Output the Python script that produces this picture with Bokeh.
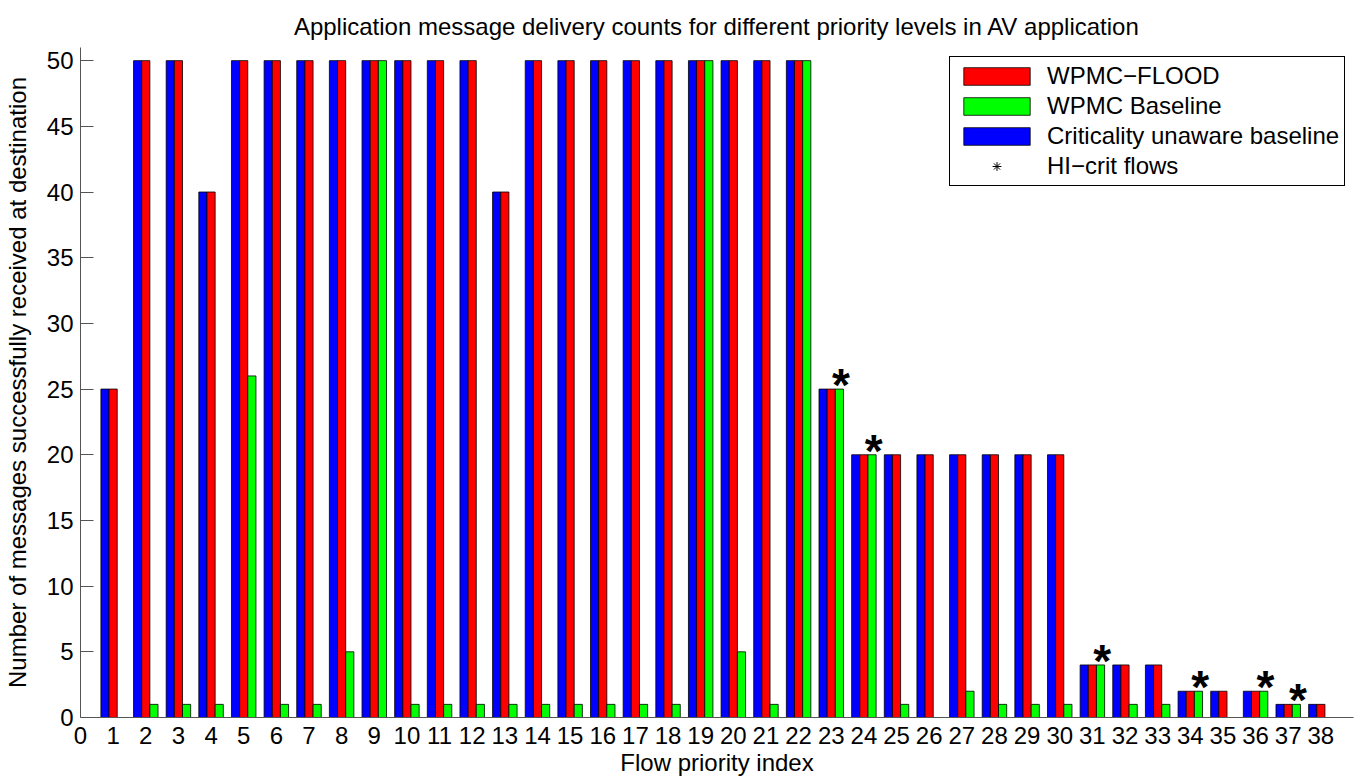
from bokeh.plotting import figure
from bokeh.models import Range1d, Legend, LegendItem, ColumnDataSource, FixedTicker
from bokeh.core.properties import value
from bokeh.transform import dodge
from bokeh.embed import file_html
from bokeh.resources import INLINE

# ---- data ----
flows = list(range(1, 39))
unaware = [25, 50, 50, 40, 50, 50, 50, 50, 50, 50,
           50, 50, 40, 50, 50, 50, 50, 50, 50, 50,
           50, 50, 25, 20, 20, 20, 20, 20, 20, 20,
           4, 4, 4, 2, 2, 2, 1, 1]
flood = [25, 50, 50, 40, 50, 50, 50, 50, 50, 50,
         50, 50, 40, 50, 50, 50, 50, 50, 50, 50,
         50, 50, 25, 20, 20, 20, 20, 20, 20, 20,
         4, 4, 4, 2, 2, 2, 1, 1]
baseline = [0, 1, 1, 1, 26, 1, 1, 5, 50, 1,
            1, 1, 1, 1, 1, 1, 1, 1, 50, 5,
            1, 50, 25, 20, 1, 0, 2, 1, 1, 1,
            4, 1, 1, 2, 0, 2, 1, 0]
hi_crit = [23, 24, 31, 34, 36, 37]
x_ticks = list(range(0, 39))
y_ticks = list(range(0, 51, 5))

series_labels = ["WPMC\u2212FLOOD", "WPMC Baseline", "Criticality unaware baseline", "HI\u2212crit flows"]
title_text = "Application message delivery counts for different priority levels in AV application"

FONT = "Liberation Sans"
FS = "24px"

p = figure(width=1364, height=783, x_range=Range1d(0, 39), y_range=Range1d(0, 51),
           output_backend="svg", toolbar_location=None, title=title_text,
           min_border_left=77, min_border_right=11, min_border_top=47, min_border_bottom=66)
p.outline_line_color = None
p.xgrid.visible = False
p.ygrid.visible = False
p.background_fill_color = "white"

p.title.align = "center"
p.title.text_font = FONT
p.title.text_font_size = FS
p.title.text_font_style = "normal"
p.title.text_color = "black"
p.title.standoff = 16

for ax in (p.xaxis[0], p.yaxis[0]):
    ax.axis_line_color = "#555555"
    ax.major_tick_line_color = "#555555"
    ax.minor_tick_line_color = None
    ax.major_label_text_font = FONT
    ax.major_label_text_font_size = FS
    ax.major_label_text_color = "black"
    ax.axis_label_text_font = FONT
    ax.axis_label_text_font_size = FS
    ax.axis_label_text_font_style = "normal"
    ax.axis_label_text_color = "black"

p.xaxis.ticker = FixedTicker(ticks=x_ticks)
p.xaxis.major_tick_in = 0
p.xaxis.major_tick_out = 0
p.xaxis.major_label_standoff = 9
p.xaxis.axis_label = "Flow priority index"
p.xaxis.axis_label_standoff = 2

p.yaxis.ticker = FixedTicker(ticks=y_ticks)
p.yaxis.major_tick_in = 13
p.yaxis.major_tick_out = 0
p.yaxis.major_label_standoff = 7
p.yaxis.axis_label = "Number of messages successfully received at destination"
p.yaxis.axis_label_standoff = 13

src = ColumnDataSource(dict(flow=flows, unaware=unaware, flood=flood, baseline=baseline))
bw = 0.25
r_blue = p.vbar(x=dodge("flow", -bw), top="unaware", width=bw, source=src,
                fill_color="#0000ff", line_color="black", line_width=0.8)
r_red = p.vbar(x="flow", top="flood", width=bw, source=src,
               fill_color="#ff0000", line_color="black", line_width=0.8)
r_green = p.vbar(x=dodge("flow", bw), top="baseline", width=bw, source=src,
                 fill_color="#00ff00", line_color="black", line_width=0.8)

star_src = ColumnDataSource(dict(x=[f + 0.3 for f in hi_crit],
                                 y=[baseline[f - 1] for f in hi_crit]))
p.text(x="x", y="y", text=value("*"), source=star_src, text_font=value(FONT),
       text_font_size=value("46px"), text_font_style="bold", text_align="center",
       text_baseline="alphabetic", y_offset=-4, text_color="black")

# zero-size markers: invisible in the plot, but drawn in the legend
r_star_leg = p.scatter(x="x", y="y", source=star_src, marker="asterisk", size=0,
                       line_color="black", line_width=1)

legend = Legend(items=[LegendItem(label=series_labels[0], renderers=[r_red]),
                       LegendItem(label=series_labels[1], renderers=[r_green]),
                       LegendItem(label=series_labels[2], renderers=[r_blue]),
                       LegendItem(label=series_labels[3], renderers=[r_star_leg])],
                location=(869, 531), margin=0, padding=5, spacing=2,
                glyph_width=83, glyph_height=22, label_height=22, label_standoff=9,
                label_text_font=FONT, label_text_font_size=FS, label_text_color="black",
                border_line_color="black", border_line_width=1, border_line_alpha=1,
                background_fill_color="white", background_fill_alpha=1)
p.add_layout(legend)

open("out.html", "w").write(file_html(p, INLINE))
